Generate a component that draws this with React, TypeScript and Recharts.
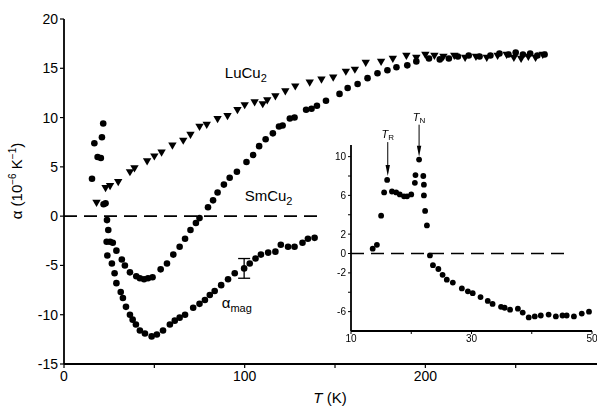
import React from "react";
import {
  ScatterChart,
  Scatter,
  XAxis,
  YAxis,
  ReferenceLine,
  ReferenceDot,
  ErrorBar,
} from "recharts";

// [T (K), alpha (1e-6 / K)]
const luCu2: [number, number][] = [
  [18, 1.3], [23, 2.8], [25.5, 3.0], [30, 3.4], [36.5, 4.4], [39, 4.8], [46, 5.5],
  [50, 6.0], [54, 6.4], [60, 7.1], [66, 7.6], [70, 8.2], [75, 9.0], [79, 9.2],
  [85, 9.8], [90.5, 10.1], [96, 10.7], [100, 11.2], [105.5, 11.5], [110, 11.3],
  [112.5, 11.7], [117, 12.1], [122.5, 12.6], [128, 13.1], [136, 13.5], [142.5, 13.8],
  [149, 14.0], [156, 14.6], [161, 14.8], [167, 15.5], [175.5, 15.6], [182, 15.9],
  [189.5, 16.2], [195, 16.0], [200, 16.3], [205, 16.2], [210, 16.1], [216, 16.2],
  [222, 16.0], [228, 16.1], [234, 16.0], [240, 16.2], [245, 16.3], [249, 16.0],
  [253, 15.9], [257, 16.1], [261, 16.0], [265, 16.3],
];

const smCu2: [number, number][] = [
  [15.5, 3.8], [16.8, 7.4], [18.6, 6.0], [20.4, 5.9], [21, 8.0], [21.7, 9.4],
  [21.9, 1.2], [23, 1.3], [23.8, -0.4], [24.5, -1.4], [25.5, -2.6], [27, -2.7],
  [29, -3.5], [32, -4.4], [33.7, -5.0], [36.5, -5.7], [40, -6.1], [42, -6.3],
  [44.3, -6.4], [46.5, -6.3], [49, -6.2], [53.5, -5.4], [57, -4.8], [60.5, -3.9],
  [64, -3.1], [67, -2.3], [70, -1.4], [73, -0.7], [75, -0.2], [79.7, 0.9],
  [82.5, 1.6], [85, 2.4], [88.5, 3.2], [91.7, 3.9], [95.7, 4.5], [101, 5.5],
  [104.7, 6.2], [108, 7.1], [111.6, 7.8], [115.6, 8.4], [119, 9.1], [121, 9.2],
  [125, 9.9], [127.6, 10.0], [134, 10.8], [137, 10.9], [140, 11.2], [145, 11.7],
  [152.5, 12.4], [157, 13.0], [162.5, 13.4], [168, 14.0], [173.5, 14.5], [179, 14.8],
  [184, 15.1], [190, 15.3], [195, 15.7], [202, 16.0], [208, 15.9], [213, 16.0],
  [218, 16.2], [224, 16.3], [230, 16.2], [236, 16.3], [241, 16.5], [246, 16.4],
  [250, 16.6], [254, 16.4], [258, 16.5], [262, 16.3], [266, 16.4],
];

const alphaMag: [number, number][] = [
  [23.6, -2.6], [24, -4.0], [26.5, -4.8], [28, -5.8], [29, -6.8], [31.4, -7.7],
  [32.6, -8.3], [34.3, -9.2], [36.5, -10.0], [38, -10.5], [39.8, -11.0], [42, -11.6],
  [44.8, -11.9], [48.5, -12.2], [51.4, -12.0], [54.8, -11.6], [58.6, -11.0],
  [61.3, -10.6], [64, -10.3], [67, -10.0], [71.5, -9.3], [75, -8.9], [78, -8.5],
  [80.7, -8.0], [83.4, -7.6], [87, -7.0], [90.8, -6.4], [94.5, -5.8], [102.8, -4.8],
  [106, -4.3], [109, -3.9], [113, -3.7], [117, -3.6], [120, -2.9], [124, -3.1],
  [127.6, -3.1], [132, -2.7], [135, -2.3], [138.7, -2.2],
];

// point with error bar: [T, alpha, error]
const magErrorPoint: [number, number, number][] = [[99.7, -5.3, 1.0]];

// inset: SmCu2 at low temperature
const insetSm: [number, number][] = [
  [13.6, 0.5], [14.3, 0.9], [15, 3.9], [15.5, 6.3], [16, 7.6], [16.8, 6.4],
  [17.5, 6.3], [18.1, 6.1], [18.8, 5.9], [19.3, 5.9], [20, 6.1], [20.6, 7.3],
  [20.7, 8.1], [21.3, 9.7], [22, 8.0], [22.1, 7.1], [22.1, 6.0], [22.3, 4.4],
  [22.6, 2.9], [23.1, -0.2], [23.6, -1.2], [24.5, -1.6], [25.2, -2.2], [25.9, -2.7],
  [26.9, -3.0], [28.4, -3.6], [29.4, -3.9], [30.2, -4.1], [31.5, -4.5], [32.7, -4.9],
  [33.5, -5.2], [34.9, -5.5], [35.5, -5.6], [36.4, -5.8], [37.7, -5.7], [38.5, -6.1],
  [39.5, -6.6], [40.5, -6.5], [41.5, -6.4], [42.8, -6.3], [44, -6.5], [45.1, -6.4],
  [45.8, -6.4], [47, -6.5], [48.3, -6.2], [49.5, -6.0],
];

const mainXTicks = [0, 50, 100, 150, 200, 250];
const mainXLabels = [0, 100, 200];
const mainYTicks = [-15, -10, -5, 0, 5, 10, 15, 20];
const insetXTicks = [10, 20, 30, 40, 50];
const insetXLabels = [10, 30, 50];
const insetYTicks = [-6, -4, -2, 0, 2, 4, 6, 8, 10];
const insetYLabels = [-6, -2, 0, 2, 6, 10];

const toPts = (arr: [number, number][]) => arr.map(([t, a]) => ({ t, a }));

const FONT = "'Liberation Sans', Arial, sans-serif";
const axisStyle = { stroke: "#000", strokeWidth: 1.8 };

const dot = (r: number) => (p: any) => <circle cx={p.cx} cy={p.cy} r={r} fill="#000" />;
const triangle = (p: any) => (
  <polygon
    points={`${p.cx - 4.2},${p.cy - 3.6} ${p.cx + 4.2},${p.cy - 3.6} ${p.cx},${p.cy + 3.6}`}
    fill="#000"
  />
);

const textAt = (content: React.ReactNode) => (p: any) => (
  <text x={p.cx} y={p.cy} fontSize={15} fontFamily={FONT} fill="#000">
    {content}
  </text>
);

const arrow = (sub: string) => (p: any) => {
  const { x1, y1, x2, y2 } = p;
  return (
    <g>
      <line x1={x1} y1={y1} x2={x2} y2={y2 - 6} stroke="#000" strokeWidth={1} />
      <polygon points={`${x2 - 2.2},${y2 - 11} ${x2 + 2.2},${y2 - 11} ${x2},${y2}`} fill="#000" />
      <text x={x1} y={y1 - 4} textAnchor="middle" fontSize={11} fontFamily={FONT} fill="#000">
        <tspan fontStyle="italic">T</tspan>
        <tspan fontSize={8} dy={2}>{sub}</tspan>
      </text>
    </g>
  );
};

export default function App() {
  return (
    <div style={{ position: "fixed", left: 0, top: 0, width: 597, height: 406, background: "#fff" }}>
      <div style={{ position: "absolute", left: 0, top: 0 }}>
        <ScatterChart width={597} height={406} margin={{ top: 19, right: 0, bottom: 0, left: 0 }}>
          <XAxis
            type="number"
            dataKey="t"
            domain={[0, 295]}
            ticks={mainXTicks}
            tickFormatter={(v: number) => (mainXLabels.includes(v) ? String(v) : "")}
            height={42}
            stroke="#000"
            axisLine={axisStyle}
            tickLine={{ stroke: "#000", strokeWidth: 1.2 }}
            tickSize={4}
            tickMargin={3}
            tick={{ fill: "#000", fontSize: 14, fontFamily: FONT }}
            label={{
              content: () => (
                <text x={330} y={403} textAnchor="middle" fontSize={15} fontFamily={FONT} fill="#000">
                  <tspan fontStyle="italic">T</tspan>
                  <tspan>{"  (K)"}</tspan>
                </text>
              ),
            }}
          />
          <YAxis
            type="number"
            dataKey="a"
            domain={[-15, 20]}
            ticks={mainYTicks}
            width={64}
            stroke="#000"
            axisLine={axisStyle}
            tickLine={{ stroke: "#000", strokeWidth: 1.2 }}
            tickSize={4}
            tickMargin={2}
            tick={{ fill: "#000", fontSize: 14, fontFamily: FONT }}
            label={{
              content: () => (
                <text
                  x={22}
                  y={181}
                  transform="rotate(-90, 22, 181)"
                  textAnchor="middle"
                  fontSize={15}
                  fontFamily={FONT}
                  fill="#000"
                >
                  <tspan>{"α  (10"}</tspan>
                  <tspan fontSize={10} dy={-6}>{"−6"}</tspan>
                  <tspan dy={6}>{"  K"}</tspan>
                  <tspan fontSize={10} dy={-6}>{"−1"}</tspan>
                  <tspan dy={6}>)</tspan>
                </text>
              ),
            }}
          />
          <ReferenceLine
            segment={[{ x: 0, y: 0 }, { x: 143, y: 0 }]}
            stroke="#000"
            strokeWidth={1.6}
            strokeDasharray="13 7"
          />
          <Scatter data={toPts(luCu2)} shape={triangle} isAnimationActive={false} />
          <Scatter data={toPts(smCu2)} shape={dot(3.3)} isAnimationActive={false} />
          <Scatter data={toPts(alphaMag)} shape={dot(3.3)} isAnimationActive={false} />
          <Scatter
            data={magErrorPoint.map(([t, a, err]) => ({ t, a, err }))}
            shape={dot(3.3)}
            isAnimationActive={false}
          >
            <ErrorBar dataKey="err" direction="y" width={6} stroke="#000" strokeWidth={1.3} />
          </Scatter>
          <ReferenceDot
            x={89}
            y={14.0}
            r={0}
            ifOverflow="visible"
            shape={textAt(
              <>
                <tspan>LuCu</tspan>
                <tspan fontSize={11} dy={4}>2</tspan>
              </>
            )}
          />
          <ReferenceDot
            x={100}
            y={1.5}
            r={0}
            ifOverflow="visible"
            shape={textAt(
              <>
                <tspan>SmCu</tspan>
                <tspan fontSize={11} dy={4}>2</tspan>
              </>
            )}
          />
          <ReferenceDot
            x={87.3}
            y={-9.3}
            r={0}
            ifOverflow="visible"
            shape={textAt(
              <>
                <tspan>α</tspan>
                <tspan fontSize={11} dy={4}>mag</tspan>
              </>
            )}
          />
        </ScatterChart>
      </div>
      <div style={{ position: "absolute", left: 320, top: 100 }}>
        <ScatterChart width={280} height={260} margin={{ top: 45, right: 8, bottom: 0, left: 0 }}>
          <XAxis
            type="number"
            dataKey="t"
            domain={[10, 50]}
            ticks={insetXTicks}
            tickFormatter={(v: number) => (insetXLabels.includes(v) ? String(v) : "")}
            height={29}
            stroke="#000"
            axisLine={axisStyle}
            tickLine={{ stroke: "#000" }}
            tickSize={3}
            tickMargin={1}
            tick={{ fill: "#000", fontSize: 10, fontFamily: FONT }}
          />
          <YAxis
            type="number"
            dataKey="a"
            domain={[-8, 11.2]}
            ticks={insetYTicks}
            tickFormatter={(v: number) => (insetYLabels.includes(v) ? String(v) : "")}
            width={31}
            stroke="#000"
            axisLine={axisStyle}
            tickLine={{ stroke: "#000" }}
            tickSize={3}
            tickMargin={2}
            tick={{ fill: "#000", fontSize: 10, fontFamily: FONT }}
          />
          <ReferenceLine
            segment={[{ x: 10, y: 0 }, { x: 45.5, y: 0 }]}
            stroke="#000"
            strokeWidth={1.5}
            strokeDasharray="13 7"
          />
          <ReferenceLine
            segment={[{ x: 16.1, y: 11.5 }, { x: 16.1, y: 8.0 }]}
            ifOverflow="visible"
            shape={arrow("R")}
          />
          <ReferenceLine
            segment={[{ x: 21.3, y: 13.3 }, { x: 21.3, y: 10.0 }]}
            ifOverflow="visible"
            shape={arrow("N")}
          />
          <Scatter data={toPts(insetSm)} shape={dot(2.9)} isAnimationActive={false} />
        </ScatterChart>
      </div>
    </div>
  );
}
